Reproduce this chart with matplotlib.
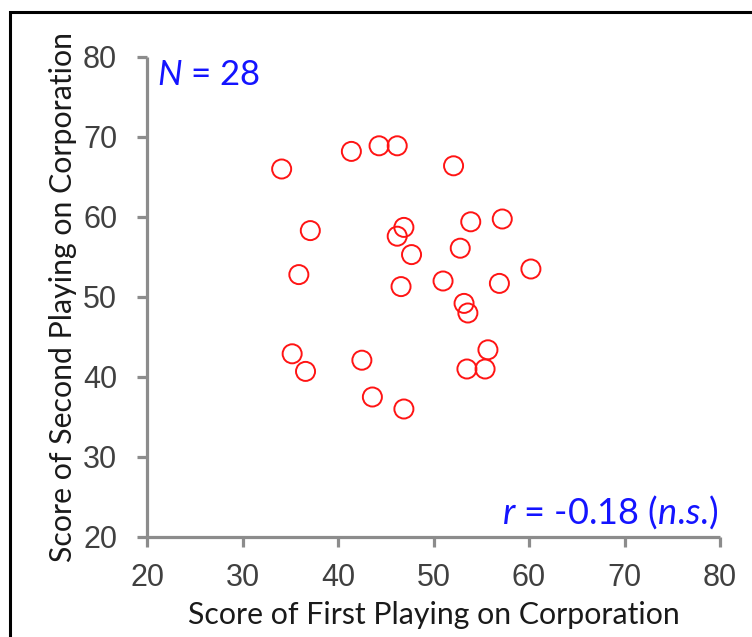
import matplotlib
matplotlib.use("Agg")
import matplotlib.pyplot as plt
from matplotlib import font_manager
from matplotlib.patches import Rectangle

# Scores from the two playings (first on x, second on y)
first_score = [34.1, 41.4, 44.3, 46.2, 52.1, 37.1, 35.9, 46.9, 46.2, 47.7,
               53.9, 57.2, 52.8, 46.6, 51.0, 60.2, 56.9, 53.2, 53.6, 35.2,
               36.6, 42.5, 55.7, 53.5, 55.4, 43.6, 46.9]
second_score = [66.0, 68.2, 68.9, 68.9, 66.4, 58.3, 52.8, 58.7, 57.6, 55.3,
                59.4, 59.75, 56.1, 51.3, 52.0, 53.5, 51.7, 49.2, 48.0, 42.9,
                40.7, 42.1, 43.4, 41.0, 41.0, 37.5, 36.0]
ticks = [20, 30, 40, 50, 60, 70, 80]
n_label = "$N$ = 28"
r_label = "$r$ = -0.18 ($n$.$s$.)"
x_title = "Score of First Playing on Corporation"
y_title = "Score of Second Playing on Corporation"

names = {f.name for f in font_manager.fontManager.ttflist}
tick_font = "Liberation Sans Narrow" if "Liberation Sans Narrow" in names else "Liberation Sans"
label_font = "Lato"

plt.rcParams["mathtext.fontset"] = "custom"
plt.rcParams["mathtext.it"] = "Lato:italic"
plt.rcParams["mathtext.rm"] = "Lato"

fig = plt.figure(figsize=(7.52, 6.37), dpi=100)
ax = fig.add_axes([147 / 752, 1 - 537 / 637, 573 / 752, 480 / 637])

ax.scatter(first_score, second_score, s=188, facecolors="none",
           edgecolors="#ff1414", linewidths=1.4, zorder=3)

ax.set_xlim(20, 80)
ax.set_ylim(20, 80)
ax.set_xticks(ticks)
ax.set_yticks(ticks)

axis_grey = "#8c8c8c"
for side in ("top", "right"):
    ax.spines[side].set_visible(False)
for side in ("left", "bottom"):
    ax.spines[side].set_color(axis_grey)
    ax.spines[side].set_linewidth(2.3)
    ax.spines[side].set_capstyle("butt")
ax.tick_params(axis="both", direction="out", length=7.5, width=2.3,
               color=axis_grey, labelcolor="#404040")
ax.tick_params(axis="y", pad=14)
ax.tick_params(axis="x", pad=11)
for lab in ax.get_xticklabels() + ax.get_yticklabels():
    lab.set_fontfamily(tick_font)
    lab.set_fontsize(22)
    lab.set_fontstretch("condensed")

ax.set_xlabel(x_title, fontfamily=label_font, fontsize=21.8, color="#1a1a1a", labelpad=6)
ax.set_ylabel(y_title, fontfamily=label_font, fontsize=21.8, color="#1a1a1a", labelpad=4)

ax.text(0.018, 0.995, n_label, transform=ax.transAxes, ha="left", va="top",
        fontfamily=label_font, fontsize=25, color="#1414ff")
ax.text(0.997, 0.012, r_label, transform=ax.transAxes, ha="right", va="bottom",
        fontfamily=label_font, fontsize=26, color="#1414ff")

# Black frame around the figure (open to the right and bottom edges)
fig.patches.append(Rectangle((10 / 752, -0.1), 1.2, 1 - 12 / 637 + 0.1,
                             transform=fig.transFigure, fill=False,
                             edgecolor="black", linewidth=2.2))

fig.savefig("out.png", dpi=100)
